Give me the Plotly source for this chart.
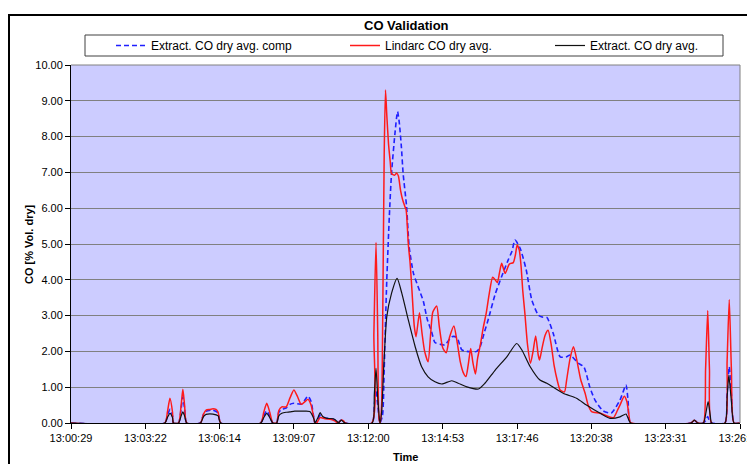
import plotly.graph_objects as go
from datetime import datetime, timedelta

# ---- data (time = seconds elapsed since 13:00:29) ----
BASE_TIME = "13:00:29"
TICK_LABELS = ["13:00:29", "13:03:22", "13:06:14", "13:09:07", "13:12:00",
               "13:14:53", "13:17:46", "13:20:38", "13:23:31", "13:26:24"]

SERIES_NAMES = ["Extract. CO dry avg. comp", "Lindarc CO dry avg.", "Extract. CO dry avg."]

BLUE_T = [0, 218, 224, 230, 236, 238, 250, 256, 260, 264, 269, 301, 308, 314, 330, 342, 348,
          441, 448, 455, 462, 469, 478, 483, 490, 500, 509, 518, 535, 544, 551, 558, 565, 567,
          575, 579, 590, 605, 614, 620, 628, 637, 700, 705, 709, 713, 718, 724, 728, 731, 734,
          740, 745, 753, 759, 763, 768, 772, 780, 786, 796, 804, 811, 819, 828, 838, 846, 858,
          869, 885, 897, 908, 920, 943, 951, 960, 970, 986, 1001, 1016, 1025, 1032, 1044, 1058,
          1071, 1086, 1095, 1106, 1121, 1137, 1152, 1160, 1179, 1192, 1206, 1218, 1237, 1256,
          1276, 1290, 1295, 1301, 1441, 1449, 1457, 1470, 1476, 1480, 1484, 1489, 1520, 1525,
          1530, 1535, 1541, 1555]
BLUE_V = [0, 0, 0.20, 0.38, 0.20, 0, 0, 0.40, 0.73, 0.40, 0, 0, 0.25, 0.33, 0.36, 0.28, 0,
          0, 0.20, 0.34, 0.20, 0, 0, 0.30, 0.38, 0.42, 0.52, 0.55, 0.53, 0.65, 0.75, 0.60, 0.10, 0,
          0.10, 0.22, 0.14, 0.12, 0.08, 0, 0.08, 0, 0, 0.50, 0.92, 0.50, 0, 0.20, 1.50, 2.80, 4.00,
          5.80, 6.97, 8.09, 8.70, 8.40, 7.70, 6.97, 6.05, 4.92, 4.18, 3.90, 3.67, 3.40, 2.90, 2.55,
          2.25, 2.20, 2.18, 2.41, 2.39, 2.05, 2.00, 2.00, 2.13, 2.50, 2.90, 3.60, 4.09, 4.55, 4.80,
          5.11, 4.88, 4.28, 3.44, 3.02, 2.96, 2.95, 2.50, 1.85, 1.85, 1.90, 1.67, 1.57, 1.00, 0.64,
          0.34, 0.28, 0.64, 1.06, 0.60, 0, 0, 0.08, 0, 0, 0.08, 0.18, 0.05, 0, 0, 0.80,
          1.57, 0.80, 0, 0]

RED_T = [0, 218, 224, 230, 236, 238, 250, 256, 260, 264, 269, 301, 308, 314, 323, 330, 337, 342,
         348, 441, 448, 455, 462, 469, 478, 483, 490, 500, 509, 518, 526, 535, 544, 551, 558, 565,
         567, 571, 579, 590, 605, 614, 620, 628, 634, 637, 699, 704, 709, 713, 716, 719, 722, 725,
         728, 731, 734, 738, 742, 745, 752, 757, 761, 766, 771, 776, 779, 784, 788, 792, 798, 802,
         810, 816, 822, 830, 836, 841, 850, 856, 864, 872, 880, 890, 897, 905, 912, 918, 923, 929,
         934, 940, 945, 952, 958, 965, 972, 980, 986, 991, 996, 1001, 1009, 1019, 1028, 1033,
         1037, 1042, 1046, 1050, 1055, 1061, 1068, 1074, 1080, 1086, 1089, 1095, 1102, 1109, 1116,
         1123, 1130, 1137, 1147, 1152, 1160, 1168, 1175, 1185, 1195, 1202, 1210, 1230, 1249, 1261,
         1270, 1276, 1286, 1292, 1299, 1301, 1441, 1449, 1457, 1470, 1475, 1480, 1484, 1489, 1520,
         1525, 1530, 1535, 1541, 1555]
RED_V = [0, 0, 0.30, 0.69, 0.30, 0, 0, 0.50, 0.94, 0.50, 0, 0, 0.25, 0.36, 0.38, 0.40, 0.38, 0.30,
         0, 0, 0.30, 0.55, 0.30, 0, 0, 0.35, 0.45, 0.45, 0.70, 0.92, 0.75, 0.52, 0.60, 0.66, 0.50, 0.10,
         0, 0, 0.15, 0.12, 0.10, 0.05, 0, 0.08, 0.05, 0, 0, 2.50, 5.05, 2.50, 0.10, 0, 0.50, 3.50,
         7.50, 9.30, 8.60, 7.80, 7.30, 6.97, 6.92, 6.98, 6.90, 6.50, 6.23, 6.05, 5.95, 5.00, 4.50, 3.80, 2.69, 2.41,
         3.08, 2.50, 2.00, 1.71, 2.50, 3.10, 3.27, 2.70, 2.10, 1.96, 2.40, 2.71, 2.30, 1.70, 1.40, 1.30, 1.60, 2.08,
         1.70, 1.37, 1.80, 2.22, 2.65, 3.06, 3.60, 4.07, 4.00, 3.92, 4.20, 4.46, 4.18, 4.44, 4.48, 4.70,
         4.97, 4.83, 4.40, 3.70, 3.06, 2.20, 1.67, 2.00, 2.43, 1.90, 1.76, 2.10, 2.45, 2.59, 2.20,
         1.60, 1.20, 0.92, 0.87, 1.20, 1.80, 2.13, 1.80, 1.20, 0.83, 0.50, 0.32, 0.27, 0.18, 0.15,
         0.35, 0.50, 0.75, 0.60, 0.05, 0, 0, 0.08, 0, 0, 1.50, 3.14, 1.50, 0, 0,
         1.70, 3.45, 1.50, 0, 0]

BLACK_T = [0, 218, 224, 230, 236, 238, 250, 256, 260, 264, 269, 301, 308, 314, 330, 342, 348,
           441, 448, 455, 462, 469, 478, 483, 490, 500, 509, 520, 540, 555, 565, 567, 574, 579,
           585, 595, 610, 618, 622, 628, 637, 700, 705, 709, 713, 718, 722, 727, 734, 745, 758,
           769, 784, 800, 815, 830, 846, 862, 885, 900, 920, 947, 962, 986, 1013, 1036, 1048,
           1067, 1090, 1106, 1144, 1175, 1198, 1230, 1253, 1276, 1290, 1296, 1301, 1441, 1449,
           1457, 1470, 1476, 1481, 1486, 1489, 1520, 1525, 1529, 1535, 1541, 1555]
BLACK_V = [0, 0, 0.15, 0.27, 0.15, 0, 0, 0.20, 0.31, 0.20, 0, 0, 0.18, 0.24, 0.25, 0.20, 0,
           0, 0.15, 0.27, 0.15, 0, 0, 0.20, 0.27, 0.30, 0.31, 0.33, 0.33, 0.32, 0.10, 0, 0.15, 0.29,
           0.18, 0.13, 0.12, 0.05, 0, 0.08, 0, 0, 0.80, 1.53, 0.70, 0, 0.30, 1.60, 2.97, 3.62, 4.04,
           3.62, 2.88, 2.13, 1.57, 1.29, 1.15, 1.09, 1.18, 1.11, 1.01, 0.95, 1.11, 1.48, 1.85, 2.22, 2.04,
           1.58, 1.20, 1.11, 0.83, 0.69, 0.50, 0.27, 0.13, 0.17, 0.25, 0.10, 0, 0, 0.08,
           0, 0, 0.30, 0.60, 0.20, 0, 0, 0.70, 1.34, 0.60, 0, 0]

assert len(BLUE_T) == len(BLUE_V)
assert len(RED_T) == len(RED_V)
assert len(BLACK_T) == len(BLACK_V)

# ---- helpers ----
base = datetime.strptime("2000-01-01 " + BASE_TIME, "%Y-%m-%d %H:%M:%S")


def to_time(secs):
    return [base + timedelta(seconds=s) for s in secs]


tickvals = [datetime.strptime("2000-01-01 " + t, "%Y-%m-%d %H:%M:%S") for t in TICK_LABELS]

FONT = "Liberation Sans, Arial, sans-serif"

# page body has an 8px margin; the chart runs past the right edge of the window
OFF = 8
W, H = 755, 464 - OFF
# plot-area edges in window pixels
LW, RW, TW, BW = 71, 740, 65, 423
PW, PH = RW - LW, BW - TW


def px(x):  # window x -> paper
    return (x - LW) / PW


def py(y):  # window y -> paper
    return (BW - y) / PH


fig = go.Figure()
fig.add_trace(go.Scatter(x=to_time(BLUE_T), y=BLUE_V, name=SERIES_NAMES[0], mode="lines",
                         line=dict(color="#1f1fff", width=1.6, dash="5px,3px", shape="spline", smoothing=0.6),
                         legend="legend"))
fig.add_trace(go.Scatter(x=to_time(RED_T), y=RED_V, name=SERIES_NAMES[1], mode="lines",
                         line=dict(color="#ff1a1a", width=1.5, shape="spline", smoothing=0.6),
                         legend="legend2"))
fig.add_trace(go.Scatter(x=to_time(BLACK_T), y=BLACK_V, name=SERIES_NAMES[2], mode="lines",
                         line=dict(color="#111111", width=1.2, shape="spline", smoothing=0.6),
                         legend="legend3"))

leg_common = dict(yanchor="middle", y=py(45.5), xanchor="left", bgcolor="rgba(0,0,0,0)",
                  borderwidth=0, font=dict(family=FONT, size=12, color="black"),
                  orientation="h", tracegroupgap=0, itemwidth=30)

fig.update_layout(
    width=W, height=H,
    margin=dict(l=LW - OFF, r=W - (RW - OFF), t=TW - OFF, b=H - (BW - OFF), pad=0,
                autoexpand=False),
    paper_bgcolor="white",
    plot_bgcolor="#ccccff",
    font=dict(family=FONT, size=11, color="black"),
    showlegend=True,
    legend=dict(x=px(111), **leg_common),
    legend2=dict(x=px(345), **leg_common),
    legend3=dict(x=px(550), **leg_common),
    xaxis=dict(
        type="date",
        automargin=False,
        range=[base, base + timedelta(seconds=1555)],
        tickvals=tickvals, ticktext=TICK_LABELS,
        ticklabeloverflow="allow",
        showgrid=False, zeroline=False,
        showline=True, linecolor="#000000", linewidth=1,
        ticks="outside", ticklen=5, tickcolor="#000000",
        tickfont=dict(family=FONT, size=11, color="black"),
    ),
    yaxis=dict(
        automargin=False,
        range=[0, 10], dtick=1, tick0=0, tickformat=".2f",
        showgrid=True, gridcolor="#808080", gridwidth=1,
        zeroline=False,
        showline=True, linecolor="#000000", linewidth=1,
        ticks="outside", ticklen=5, tickcolor="#000000",
        tickfont=dict(family=FONT, size=11, color="black"),
    ),
    shapes=[
        # plot area border (top / right)
        dict(type="line", xref="paper", yref="paper", x0=0, x1=1, y0=1, y1=1,
             line=dict(color="#808080", width=1)),
        dict(type="line", xref="paper", yref="paper", x0=1, x1=1, y0=0, y1=1,
             line=dict(color="#808080", width=1)),
        # legend box
        dict(type="rect", xref="paper", yref="paper", x0=px(85), x1=px(723), y0=py(56), y1=py(35),
             line=dict(color="#404040", width=1), fillcolor="white", layer="below"),
        # chart area border (left / top)
        dict(type="line", xref="paper", yref="paper", x0=px(9), x1=px(9), y0=py(480), y1=py(15),
             line=dict(color="#000000", width=2)),
        dict(type="line", xref="paper", yref="paper", x0=px(8), x1=px(780), y0=py(15), y1=py(15),
             line=dict(color="#000000", width=2)),
    ],
    annotations=[
        dict(text="<b>CO Validation</b>", xref="paper", yref="paper", x=px(406), y=py(26),
             xanchor="center", yanchor="middle", showarrow=False,
             font=dict(family=FONT, size=13, color="black")),
        dict(text="<b>Time</b>", xref="paper", yref="paper", x=px(405), y=py(457),
             xanchor="center", yanchor="middle", showarrow=False,
             font=dict(family=FONT, size=11, color="black")),
        dict(text="<b>CO [% Vol. dry]</b>", xref="paper", yref="paper", x=px(29), y=py(244),
             xanchor="center", yanchor="middle", showarrow=False, textangle=-90,
             font=dict(family=FONT, size=11, color="black")),
    ],
)

fig.write_html("out.html")
